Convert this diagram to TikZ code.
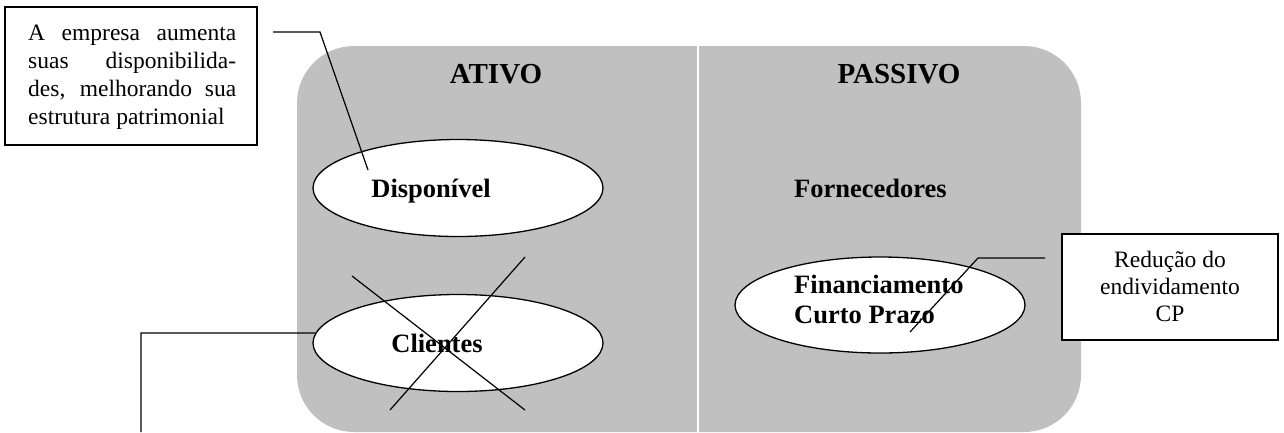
\documentclass[tikz,border=0pt]{standalone}
\usepackage{fontspec}
\setmainfont{Liberation Serif}
\usetikzlibrary{shapes.geometric}
\definecolor{panel}{RGB}{192,192,192}
\begin{document}
\begin{tikzpicture}[x=1pt,y=-1pt,
  oval/.style={ellipse,draw,fill=white,line width=1.3pt,minimum width=290pt,minimum height=97pt,inner sep=0pt},
  note/.style={draw,fill=white,line width=1.4pt,inner sep=0pt},
  title/.style={font=\fontsize{29}{32}\selectfont\bfseries,anchor=base,inner sep=0pt},
  lbl/.style={font=\fontsize{26.5}{30}\selectfont\bfseries,anchor=base,inner sep=0pt},
  leader/.style={line width=1.2pt}]
\useasboundingbox (0,0) rectangle (1284,432);
% panel
\fill[panel,rounded corners=57pt] (297,46) rectangle (1081,432);
\draw[white,line width=2pt] (698,46) -- (698,432);
% titles
\node[title] (ativo) at (496,83) {ATIVO};
\node[title] (passivo) at (899,83) {PASSIVO};
% ellipses
\node[oval] (disp) at (458,188) {};
\node[lbl] (dispt) at (431,197) {Disponível};
\node[oval] (cli) at (458,343) {};
\node[lbl] (clit) at (437,352) {Clientes};
\node[lbl,anchor=base west] (forn) at (794,197) {Fornecedores};
\node[oval,minimum height=96pt] (fin) at (880,305) {};
\node[anchor=base west,inner sep=0pt] (fint) at (794,293)
  {\parbox[t]{200pt}{\fontsize{26.5}{30}\selectfont\bfseries Financiamento\\Curto Prazo}};
% cross
\coordinate (x1) at (352,276);
\coordinate (x2) at (525,410);
\coordinate (x3) at (525,257);
\coordinate (x4) at (390,410);
\draw[leader] (x1) -- (x2);
\draw[leader] (x3) -- (x4);
% left note
\node[note,minimum width=252pt,minimum height=138pt] (lbox) at (131,76) {};
\node[anchor=base west,inner sep=0pt] (ltext) at (28,40)
  {\parbox[t]{208pt}{\fontsize{23.5}{28}\selectfont
   \makebox[208pt][s]{A empresa aumenta}\\
   \makebox[208pt][s]{suas disponibilida-}\\
   \makebox[208pt][s]{des, melhorando sua}\\
   estrutura patrimonial}};
% right note
\node[note,minimum width=216pt,minimum height=106pt] (rbox) at (1170,287) {};
\node[anchor=base,inner sep=0pt] (rtext) at (1170,267)
  {\parbox[t]{200pt}{\centering\fontsize{23.5}{27}\selectfont Redução do\\endividamento\\CP}};
% leaders
\coordinate (l1) at (273,32);
\coordinate (l2) at (320,32);
\coordinate (l3) at (368,170);
\draw[leader] (l1) -- (l2) -- (l3);
\coordinate (c1) at (141,333);
\coordinate (c2) at (141,432);
\draw[leader] (cli.176) -- (c1) -- (c2);
\coordinate (r1) at (1045,258);
\coordinate (r2) at (978,258);
\coordinate (r3) at (910,332);
\draw[leader] (r1) -- (r2) -- (r3);
\end{tikzpicture}
\end{document}
